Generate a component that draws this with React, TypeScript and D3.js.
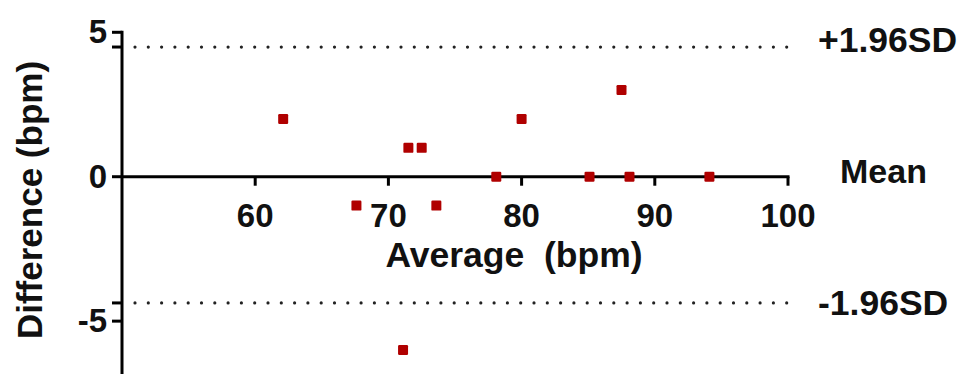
import React from "react";
import * as d3 from "d3";

const averages = [62.1, 67.6, 71.1, 71.5, 72.5, 73.6, 78.1, 80.0, 85.1, 87.5, 88.1, 94.1];
const differences = [2, -1, -6, 1, 1, -1, 0, 2, 0, 3, 0, 0];
const xTicks = [60, 70, 80, 90, 100];
const yTicks = [5, 0, -5];
const upperLimit = 4.49;
const lowerLimit = -4.37;
const meanDiff = 0;

const W = 961;
const H = 374;
const FONT = "'Liberation Sans', Arial, Helvetica, sans-serif";

export default function App() {
  const x = d3.scaleLinear().domain([50, 100]).range([122, 788]);
  const y = d3.scaleLinear().domain([-7, 5]).range([378.9, 32.3]);
  const x0 = x(50);
  const y0 = y(0);

  return (
    <svg
      width={W}
      height={H}
      style={{ position: "absolute", left: 0, top: 0, background: "#fff" }}
      fontFamily={FONT}
    >
      {/* dotted limit lines */}
      {[upperLimit, lowerLimit].map((v, i) => (
        <line
          key={i}
          x1={x0 + 13}
          x2={x(100)}
          y1={y(v)}
          y2={y(v)}
          stroke="#222"
          strokeWidth={3.2}
          strokeLinecap="round"
          strokeDasharray="0,13.3"
        />
      ))}

      {/* x axis (at mean) */}
      <line x1={x0} x2={x(100) + 1.5} y1={y0} y2={y0} stroke="#000" strokeWidth={3} />
      {xTicks.map((t) => (
        <g key={t}>
          <line x1={x(t)} x2={x(t)} y1={y0} y2={y0 + 9} stroke="#000" strokeWidth={3} />
          <text
            x={x(t)}
            y={y0 + 50}
            textAnchor="middle"
            fontSize={33}
            fontWeight="bold"
            fill="#111"
          >
            {t}
          </text>
        </g>
      ))}

      {/* y axis */}
      <line x1={x0} x2={x0} y1={y(5) - 1.5} y2={H + 5} stroke="#000" strokeWidth={3} />
      {[...yTicks, upperLimit, lowerLimit].map((t, i) => (
        <line key={i} x1={x0 - 10} x2={x0} y1={y(t)} y2={y(t)} stroke="#000" strokeWidth={3} />
      ))}
      {yTicks.map((t) => (
        <text
          key={t}
          x={x0 - 15}
          y={y(t) + 11}
          textAnchor="end"
          fontSize={33}
          fontWeight="bold"
          fill="#111"
        >
          {t}
        </text>
      ))}

      {/* points */}
      {averages.map((a, i) => (
        <rect
          key={i}
          x={x(a) - 5}
          y={y(differences[i]) - 5}
          width={10}
          height={10}
          rx={1.2}
          fill="#b00000"
        />
      ))}

      {/* axis titles */}
      <text
        x={514}
        y={267}
        textAnchor="middle"
        fontSize={35.5}
        fontWeight="bold"
        fill="#111"
        style={{ whiteSpace: "pre" }}
      >
        {"Average  (bpm)"}
      </text>
      <text
        transform={`translate(42,200) rotate(-90)`}
        textAnchor="middle"
        fontSize={35}
        fontWeight="bold"
        fill="#111"
      >
        Difference (bpm)
      </text>

      {/* limit labels */}
      <text x={818} y={y(upperLimit) + 5} fontSize={35.5} fontWeight="bold" fill="#111">
        +1.96SD
      </text>
      <text x={840} y={y(meanDiff) + 6} fontSize={34} fontWeight="bold" fill="#111">
        Mean
      </text>
      <text x={818} y={y(lowerLimit) + 12} fontSize={35.5} fontWeight="bold" fill="#111">
        -1.96SD
      </text>
    </svg>
  );
}
